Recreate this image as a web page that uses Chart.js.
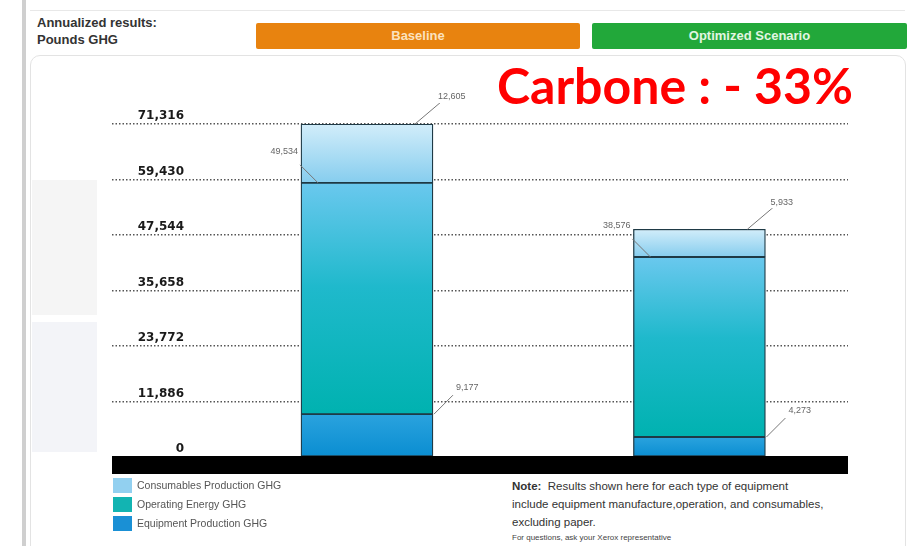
<!DOCTYPE html>
<html>
<head>
<meta charset="utf-8">
<script src="https://cdn.jsdelivr.net/npm/chart.js@4.4.1/dist/chart.umd.min.js"></script>
<style>
  html, body { margin: 0; padding: 0; background: #fff; }
  #page { position: relative; width: 911px; height: 546px; overflow: hidden; font-family: 'Liberation Sans', Arial, sans-serif; }
  .abs { position: absolute; }
  #sidebar { left: 22px; top: 0; width: 4px; height: 546px; background: #cfcfcf; }
  #topline { left: 30px; top: 10px; width: 875px; height: 1px; background: #e8e8e8; }
  #panel { left: 30px; top: 55px; width: 874px; height: 500px; border: 1px solid #e3e3e3; border-radius: 10px; }
  .ghost { left: 32px; width: 65px; }
  #header { left: 37px; top: 14px; font-weight: bold; font-size: 13px; line-height: 17px; color: #333; }
  .tab { top: 23px; height: 26px; line-height: 26px; text-align: center; font-weight: bold; font-size: 13px; border-radius: 2px; }
  #tabBase { left: 256px; width: 324px; background: #e8830f; color: #fbe2bf; }
  #tabOpt { left: 592px; width: 315px; background: #22a83a; color: #e2f6e2; }
  #carbone { left: 497px; top: 55px; color: #ff0000; font-family: Lato, 'Open Sans', sans-serif; font-weight: bold; font-size: 46px; line-height: 60px; white-space: nowrap; }
  #note { left: 512px; top: 477px; font-size: 11.5px; line-height: 18px; color: #333; white-space: nowrap; }
  #ask { left: 512px; top: 533px; font-size: 8px; color: #444; white-space: nowrap; }
  canvas { position: absolute; left: 0; top: 0; }
</style>
</head>
<body>
<div id="page">
  <div class="abs" id="sidebar"></div>
  <div class="abs" id="topline"></div>
  <div class="abs" id="panel"></div>
  <div class="abs ghost" style="top:180px;height:135px;background:#f5f5f5;"></div>
  <div class="abs ghost" style="top:322px;height:130px;background:#f3f4f8;"></div>
  <div class="abs" id="header">Annualized results:<br>Pounds GHG</div>
  <div class="abs tab" id="tabBase">Baseline</div>
  <div class="abs tab" id="tabOpt">Optimized Scenario</div>
  <div class="abs" id="carbone">Carbone : - 33%</div>
  <div class="abs" id="note"><b>Note:</b>&nbsp; Results shown here for each type of equipment<br>include equipment manufacture,operation, and consumables,<br>excluding paper.</div>
  <div class="abs" id="ask">For questions, ask your Xerox representative</div>
  <canvas id="ghgChart" width="911" height="546"></canvas>
</div>
<script>
// Data
const categories = ['Baseline', 'Optimized Scenario'];
const equipmentProduction = [9177, 4273];
const operatingEnergy = [49534, 38576];
const consumablesProduction = [12605, 5933];
const yTicks = [0, 11886, 23772, 35658, 47544, 59430, 71316];
const seriesNames = ['Equipment Production GHG', 'Operating Energy GHG', 'Consumables Production GHG'];

// Colours
const legendColors = ['#1a90d5', '#12b4b2', '#92d0f0'];
const gradients = [
    [[0, '#2aa3de'], [1, '#0a8dd1']],
    [[0, '#6ac8ee'], [0.45, '#1fb9cc'], [1, '#00b2b0']],
    [[0, '#d2edfa'], [1, '#86cdee']]
];

const fmt = v => v.toLocaleString('en-US');

// gradient per stacked segment, from the segment's own top to bottom
function segmentFill(stops) {
    return (ctx) => {
        const chart = ctx.chart;
        if (!chart.chartArea || ctx.type !== 'data') return stops[stops.length - 1][1];
        const y = chart.scales.y;
        let base = 0;
        for (let k = 0; k < ctx.datasetIndex; k++) {
            base += chart.data.datasets[k].data[ctx.dataIndex].y;
        }
        const top = base + ctx.raw.y;
        const g = chart.ctx.createLinearGradient(0, y.getPixelForValue(top), 0, y.getPixelForValue(base));
        stops.forEach(([o, c]) => g.addColorStop(o, c));
        return g;
    };
}

const seriesValues = [equipmentProduction, operatingEnergy, consumablesProduction];
const datasets = seriesValues.map((vals, i) => ({
    label: seriesNames[i],
    data: vals.map((v, j) => ({ x: j + 1, y: v })),
    backgroundColor: segmentFill(gradients[i]),
    borderColor: '#1f3a46',
    borderWidth: 1.3,
    borderSkipped: false,
    barThickness: 132
}));

// label placement per series: which side of the bar the callout goes
const calloutSide = ['right', 'left', 'topRight'];

const overlayPlugin = {
    id: 'overlay',
    afterDatasetsDraw(chart) {
        const c = chart.ctx;
        const area = chart.chartArea;
        const y = chart.scales.y;

        // black base band
        c.save();
        c.fillStyle = '#000';
        c.fillRect(area.left, y.getPixelForValue(0) - 1, area.right - area.left, 18);

        // y tick labels, sitting above the dotted lines
        c.font = 'bold 12px "DejaVu Sans"';
        c.fillStyle = '#1a1a1a';
        c.textAlign = 'right';
        c.textBaseline = 'middle';
        y.ticks.forEach(t => {
            c.fillText(fmt(t.value), 184, y.getPixelForValue(t.value) - 8);
        });

        // callout labels with leader lines
        c.font = '9px "Liberation Sans"';
        c.strokeStyle = '#777';
        c.lineWidth = 1;
        chart.data.datasets.forEach((ds, i) => {
            const meta = chart.getDatasetMeta(i);
            meta.data.forEach((el, j) => {
                const left = el.x - el.width / 2;
                const right = el.x + el.width / 2;
                const top = el.y;
                const text = fmt(seriesValues[i][j]);
                let x1, y1, x2, y2, tx, ty, align;
                if (calloutSide[i] === 'topRight') {
                    x1 = right - 18; y1 = top; x2 = right + 8; y2 = top - 22;
                    tx = right + 5; ty = top - 27; align = 'left';
                } else if (calloutSide[i] === 'left') {
                    x1 = left + 17; y1 = top; x2 = left - 1; y2 = top - 18;
                    tx = left - 3; ty = top - 31; align = 'right';
                } else {
                    x1 = right + 1; y1 = top; x2 = right + 20; y2 = top - 19;
                    tx = right + 23; ty = top - 27; align = 'left';
                }
                c.beginPath();
                c.moveTo(x1, y1);
                c.lineTo(x2, y2);
                c.stroke();
                const w = c.measureText(text).width;
                const bx = align === 'left' ? tx - 1 : tx - w - 1;
                c.fillStyle = '#fff';
                c.fillRect(bx, ty - 6, w + 2, 12);
                c.fillStyle = '#666';
                c.textAlign = align;
                c.fillText(text, tx, ty);
            });
        });

        // legend, top entry = top segment
        c.font = '10.5px "Liberation Sans"';
        c.textAlign = 'left';
        for (let k = 0; k < seriesNames.length; k++) {
            const i = seriesNames.length - 1 - k;
            const sy = 478 + k * 19;
            c.fillStyle = legendColors[i];
            c.fillRect(113, sy, 19, 15);
            c.fillStyle = '#555';
            c.fillText(seriesNames[i], 137, sy + 8);
        }
        c.restore();
    }
};

const ctx = document.getElementById('ghgChart').getContext('2d');
const ghgChart = new Chart(ctx, {
    type: 'bar',
    data: { labels: categories, datasets: datasets },
    options: {
        responsive: false,
        animation: false,
        layout: { padding: { left: 112, right: 63, top: 124, bottom: 89 } },
        plugins: {
            legend: { display: false },
            tooltip: { enabled: false }
        },
        scales: {
            x: {
                type: 'linear',
                stacked: true,
                offset: false,
                min: 0.233,
                max: 2.447,
                display: false
            },
            y: {
                stacked: true,
                min: 0,
                max: 71316,
                afterBuildTicks: (scale) => {
                    scale.ticks = yTicks.map(v => ({ value: v }));
                },
                ticks: { display: false },
                grid: { color: '#555', lineWidth: 1.4, drawTicks: false },
                border: { display: false, dash: [1.5, 2] }
            }
        }
    },
    plugins: [overlayPlugin]
});

// fit the red headline to its width in the picture
const head = document.getElementById('carbone');
const hw = head.getBoundingClientRect().width;
head.style.fontSize = (46 * 356 / hw).toFixed(1) + 'px';
</script>
</body>
</html>
